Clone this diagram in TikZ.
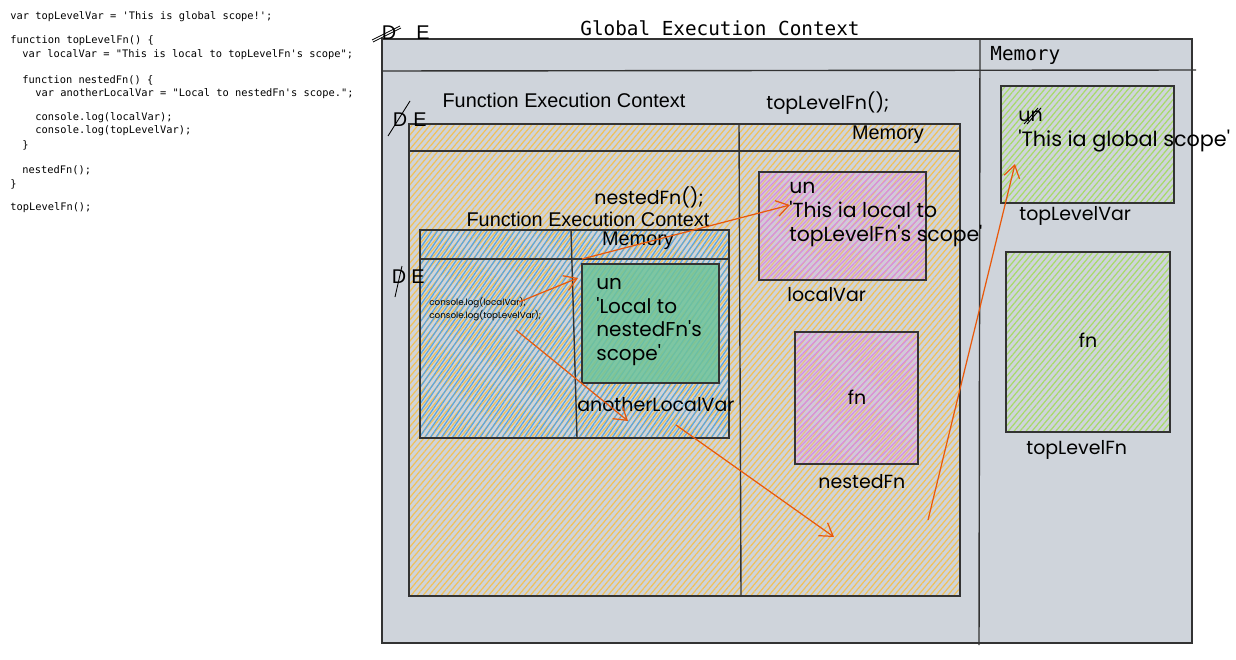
\documentclass[tikz,border=0pt]{standalone}
\usepackage{fontspec}
\setmainfont{Liberation Sans}
\setmonofont{DejaVu Sans Mono}
\newfontfamily\handfont{Poppins}
\usetikzlibrary{patterns.meta,arrows.meta}
\definecolor{ctxgray}{HTML}{CFD4DB}
\definecolor{hatchorange}{HTML}{F0C15A}
\definecolor{hatchblue}{HTML}{5AA5E0}
\definecolor{hatchpurple}{HTML}{D68AE6}
\definecolor{tintpurple}{HTML}{D8B4DC}
\definecolor{hatchgreen}{HTML}{A8DA6A}
\definecolor{nestgreen}{HTML}{6FC49A}
\definecolor{pointer}{HTML}{E8590C}

\begin{document}
\begin{tikzpicture}[x=0.02cm,y=-0.02cm,
    ctx/.style={draw=black!80,line width=0.8pt},
    hatch/.style={pattern={Lines[angle=50,distance=2.6pt,line width=0.7pt]},pattern color=#1},
    lbl/.style={font=\handfont\fontsize{10.8}{12}\selectfont,anchor=west,inner sep=0pt},
    tiny/.style={font=\handfont\fontsize{5}{6}\selectfont,anchor=west,inner sep=0pt},
    sans/.style={font=\fontsize{11.3}{13}\selectfont,inner sep=0pt},
    mono/.style={font=\ttfamily\fontsize{11}{13}\selectfont,inner sep=0pt},
    code/.style={font=\ttfamily\fontsize{5.9}{7}\selectfont,anchor=west,inner sep=0pt},
    ptr/.style={draw=pointer,line width=0.7pt,-{Straight Barb[length=7pt,width=9pt]}},
    strike/.style={draw=black,line width=0.5pt}]
    \useasboundingbox (0,0) rectangle (1236,659);

    % source code
    \foreach \ypos/\xpos/\codeline in {17/10/{var topLevelVar = 'This is global scope!';},
        41/10/{function topLevelFn() \{}, 55/22/{var localVar = "This is local to topLevelFn's scope";},
        80/22/{function nestedFn() \{}, 94/35/{var anotherLocalVar = "Local to nestedFn's scope.";},
        118/35/{console.log(localVar);}, 131/35/{console.log(topLevelVar);}, 145/22/{\}},
        170/22/{nestedFn();}, 184/10/{\}}, 208/10/{topLevelFn();}}
      \node[code] (code\ypos) at (\xpos,\ypos) {\codeline};

    % global execution context
    \draw[ctx,fill=ctxgray] (382,39) rectangle (1192,643);
    \draw[ctx] (382,71) -- (1196,70);
    \draw[ctx] (980,39) -- (979,645);
    \node[mono] (gec) at (720,28) {Global Execution Context};
    \node[mono,anchor=west] (gmem) at (990,55) {Memory};
    \node[sans] (gd) at (389,33) {D};
    \node[sans] (ge) at (423,33) {E};
    \draw[strike] (372,40) -- (400,26) (373,42) -- (401,28);

    % function execution context (topLevelFn)
    \path[hatch=hatchorange] (409,124) rectangle (960,596);
    \draw[ctx] (409,124) rectangle (960,596);
    \draw[ctx] (409,151) -- (960,151);
    \draw[ctx] (739,124) -- (741,596);
    \node[sans] (fec) at (564,100) {Function Execution Context};
    \node[lbl] (callTop) at (766,103) {topLevelFn();};
    \node[sans] (fmem) at (888,135) {Memory};
    \node[sans] (fd) at (400,120) {D};
    \node[sans] (fe) at (420,120) {E};
    \draw[strike] (388,136) -- (410,101);

    % function execution context (nestedFn)
    \path[pattern={Lines[angle=56,distance=2.6pt,line width=0.7pt]},pattern color=hatchblue] (420,230) rectangle (729,438);
    \draw[ctx] (420,230) rectangle (729,438);
    \draw[ctx] (420,259) -- (729,259);
    \draw[ctx] (571,230) -- (577,438);
    \node[sans] (nfec) at (588,219) {Function Execution Context};
    \node[lbl] (callNested) at (594,197) {nestedFn();};
    \node[sans] (nmem) at (638,241) {Memory};
    \node[sans] (nd) at (399,277) {D};
    \node[sans] (ne) at (418,277) {E};
    \draw[strike] (395,297) -- (402,266);
    \node[tiny] (log1) at (429,303) {console.log(localVar);};
    \node[tiny] (log2) at (429,316) {console.log(topLevelVar);};

    % anotherLocalVar
    \draw[ctx,fill=nestgreen,fill opacity=0.85] (582,264) rectangle (719,383);
    \node[lbl,align=left,anchor=north west,font=\handfont\fontsize{11.4}{13.4}\selectfont] (anotherVal) at (596,278)
      {un\\'Local to\\nestedFn's\\scope'};
    \node[lbl] (anotherName) at (577,405) {anotherLocalVar};

    % localVar
    \path[fill=tintpurple,fill opacity=0.35] (759,172) rectangle (926,280);
    \path[pattern={Lines[angle=45,distance=2.6pt,line width=0.6pt]},pattern color=hatchpurple] (759,172) rectangle (926,280);
    \draw[ctx] (759,172) rectangle (926,280);
    \node[lbl,align=left,anchor=north west,font=\handfont\fontsize{11.6}{13.6}\selectfont] (localVal) at (789,182)
      {un\\'This ia local to\\topLevelFn's scope'};
    \node[lbl] (localName) at (787,295) {localVar};

    % nestedFn
    \path[fill=tintpurple,fill opacity=0.35] (795,332) rectangle (918,464);
    \path[pattern={Lines[angle=45,distance=2.6pt,line width=0.6pt]},pattern color=hatchpurple] (795,332) rectangle (918,464);
    \draw[ctx] (795,332) rectangle (918,464);
    \node[lbl,anchor=center] (nestedVal) at (857,397) {fn};
    \node[lbl] (nestedName) at (818,482) {nestedFn};

    % topLevelVar
    \path[hatch=hatchgreen] (1001,86) rectangle (1174,203);
    \draw[ctx] (1001,86) rectangle (1174,203);
    \node[lbl,anchor=west] (topUn) at (1018,116) {un};
    \draw[strike] (1024,124) -- (1038,108) (1027,124) -- (1041,108);
    \node[lbl,font=\handfont\fontsize{11.8}{13}\selectfont] (topVal) at (1018,141) {'This ia global scope'};
    \node[lbl] (topName) at (1019,216) {topLevelVar};

    % topLevelFn
    \path[hatch=hatchgreen] (1006,252) rectangle (1170,432);
    \draw[ctx] (1006,252) rectangle (1170,432);
    \node[lbl,anchor=center] (topFnVal) at (1088,340) {fn};
    \node[lbl] (topFnName) at (1026,450) {topLevelFn};

    % scope lookups
    \coordinate (p1) at (519,302);
    \coordinate (q1) at (578,278);
    \coordinate (p2) at (582,259);
    \coordinate (q2) at (790,205);
    \coordinate (p3) at (516,330);
    \coordinate (q3) at (628,421);
    \coordinate (p4) at (676,425);
    \coordinate (q4) at (834,537);
    \coordinate (p5) at (928,520);
    \coordinate (q5) at (1015,164);
    \draw[ptr] (p1) -- (q1);
    \draw[ptr] (p2) -- (q2);
    \draw[ptr] (p3) -- (q3);
    \draw[ptr] (p4) -- (q4);
    \draw[ptr] (p5) -- (q5);
\end{tikzpicture}
\end{document}
